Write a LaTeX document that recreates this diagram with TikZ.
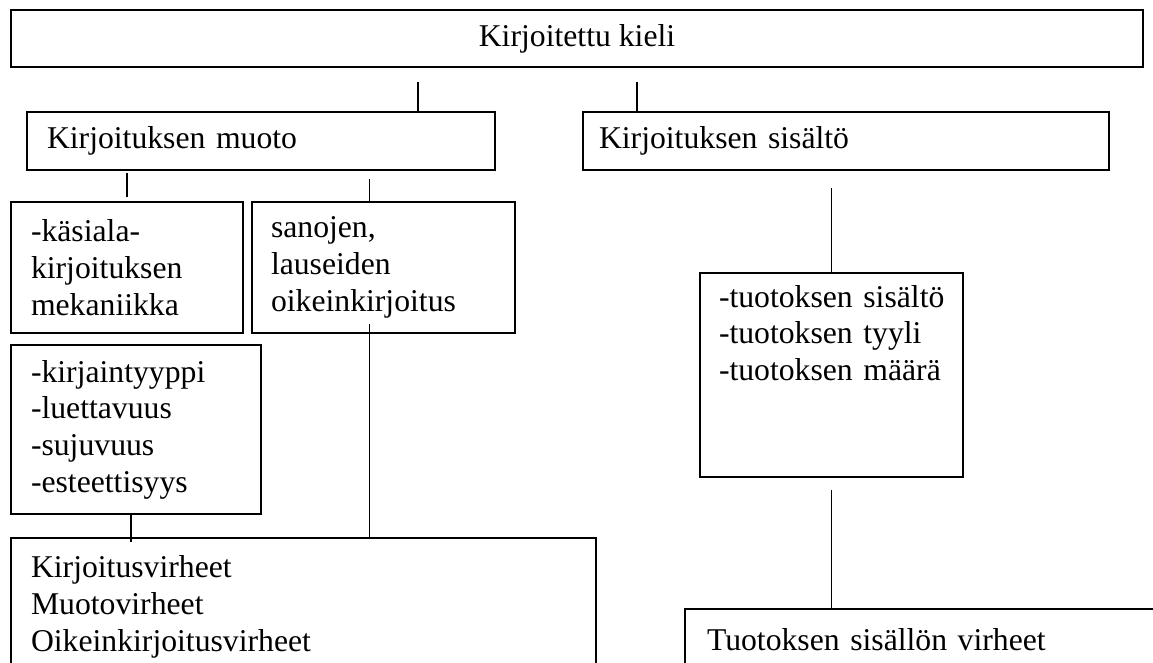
\documentclass[tikz,border=0pt]{standalone}
\usepackage{fontspec}
\setmainfont{Liberation Serif}
\usetikzlibrary{positioning}

\begin{document}
\begin{tikzpicture}[
  x=1pt, y=-1pt,
  box/.style={draw, rectangle, line width=2pt, anchor=north west,
    inner xsep=20pt, inner ysep=0pt, align=left,
    font=\fontsize{31.7}{36.7}\selectfont},
  conn/.style={line width=1.6pt},
]
\useasboundingbox (0,0) rectangle (1153,662);
\clip (0,0) rectangle (1153,662);

% Top level
\node[box, align=center, minimum width=1132pt, minimum height=57pt] (kieli) at (10,9) {Kirjoitettu kieli};

% Form and content
\node[box, text width=428pt, minimum height=58pt] (muoto) at (26,111) {Kirjoituksen muoto};
\node[box, inner xsep=16pt, text width=494pt, minimum height=58pt] (sisalto) at (582,111) {Kirjoituksen sisältö};

% Form branch
\node[box, text width=192pt, minimum height=131pt] (kasiala) at (10,201) {-käsiala-\\kirjoituksen\\mekaniikka};
\node[box, inner xsep=19pt, text width=225pt, minimum height=131pt] (sanojen) at (251,201) {sanojen,\\lauseiden\\oikeinkirjoitus};
\node[box, text width=210pt, minimum height=169pt] (kirjain) at (10,344) {-kirjaintyyppi\\-luettavuus\\-sujuvuus\\-esteettisyys};
\node[box, text width=545pt, minimum height=138pt] (virheet) at (10,537) {Kirjoitusvirheet\\Muotovirheet\\Oikeinkirjoitusvirheet};

% Content branch
\node[box, inner xsep=19pt, text width=225pt, minimum height=204pt] (tuotos) at (699,272) {\mbox{-tuotoksen sisältö}\\-tuotoksen tyyli\\-tuotoksen määrä\\\strut\\\strut};
\node[box, inner xsep=22pt, text width=432pt, minimum height=62pt] (tvirheet) at (684,608) {Tuotoksen sisällön virheet};

% Connector points
\coordinate (muotoin) at ([xshift=157pt]muoto.north);
\coordinate (sisaltoin) at ([xshift=-209pt]sisalto.north);
\coordinate (sanojenin) at ([xshift=-14pt]sanojen.north);
\coordinate (sanojenout) at ([xshift=-14pt]sanojen.south);
\coordinate (kirjainout) at ([xshift=-5pt]kirjain.south);

% Connectors
\draw[conn, shorten <=14pt] (kieli.south -| muotoin) -- (muotoin);
\draw[conn, shorten <=14pt] (kieli.south -| sisaltoin) -- (sisaltoin);
\draw[conn, shorten <=2pt, shorten >=4pt] (muoto.south -| kasiala.north) -- (kasiala.north);
\draw[conn, shorten <=8pt] (muoto.south -| sanojenin) -- (sanojenin);
\draw[conn, shorten <=-10pt] (sanojenout) -- (sanojenout |- virheet.north);
\draw[conn, shorten >=-5pt] (kirjainout) -- (kirjainout |- virheet.north);
\draw[conn, shorten <=17pt] (sisalto.south -| tuotos.north) -- (tuotos.north);
\draw[conn, shorten <=12pt] (tuotos.south) -- (tuotos.south |- tvirheet.north);
\end{tikzpicture}
\end{document}
